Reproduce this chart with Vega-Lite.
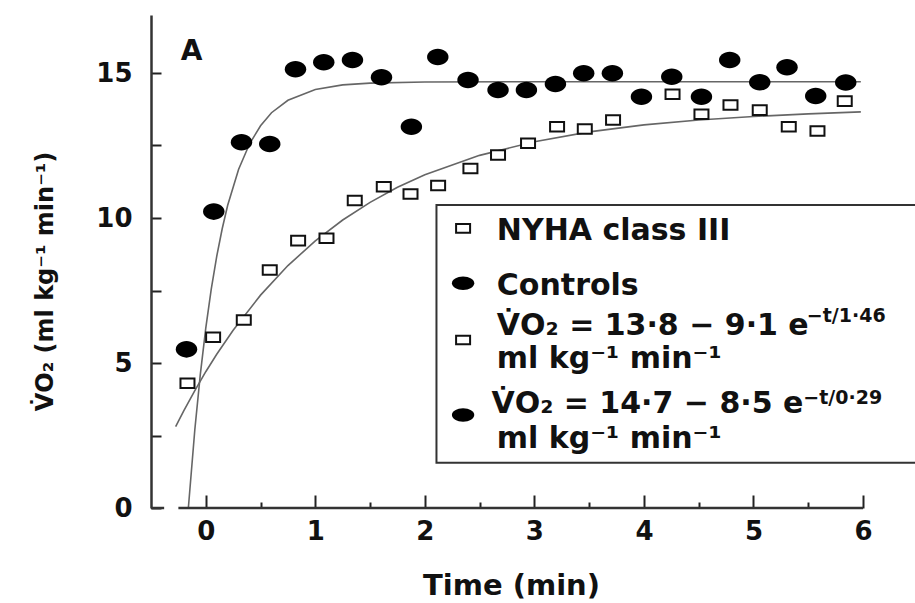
{
  "$schema": "https://vega.github.io/schema/vega-lite/v6.json",
  "width": 761,
  "height": 493,
  "autosize": {"type": "none"},
  "padding": {"left": 151, "top": 15, "right": 3, "bottom": 95},
  "background": "white",
  "config": {
    "view": {"stroke": null},
    "font": "DejaVu Sans",
    "axis": {"grid": false, "labelFont": "DejaVu Sans", "titleFont": "DejaVu Sans", "labelFontWeight": "bold", "titleFontWeight": "bold", "labelColor": "#111", "titleColor": "#111", "tickColor": "#222", "tickWidth": 2, "labelFlush": false, "labelOverlap": false, "labelBound": false}
  },
  "datasets": {
    "controls": [
      {"t": -0.176, "v": 5.47}, {"t": 0.073, "v": 10.22}, {"t": 0.326, "v": 12.61}, {"t": 0.584, "v": 12.55},
      {"t": 0.819, "v": 15.13}, {"t": 1.077, "v": 15.37}, {"t": 1.339, "v": 15.45}, {"t": 1.604, "v": 14.85},
      {"t": 1.877, "v": 13.15}, {"t": 2.118, "v": 15.55}, {"t": 2.394, "v": 14.76}, {"t": 2.668, "v": 14.41},
      {"t": 2.927, "v": 14.41}, {"t": 3.192, "v": 14.62}, {"t": 3.45, "v": 14.99}, {"t": 3.712, "v": 14.99},
      {"t": 3.977, "v": 14.18}, {"t": 4.254, "v": 14.87}, {"t": 4.525, "v": 14.18}, {"t": 4.783, "v": 15.45},
      {"t": 5.057, "v": 14.68}, {"t": 5.306, "v": 15.2}, {"t": 5.568, "v": 14.21}, {"t": 5.842, "v": 14.67}
    ],
    "nyha": [
      {"t": -0.167, "v": 4.3}, {"t": 0.067, "v": 5.89}, {"t": 0.347, "v": 6.48}, {"t": 0.584, "v": 8.21},
      {"t": 0.843, "v": 9.22}, {"t": 1.102, "v": 9.3}, {"t": 1.36, "v": 10.6}, {"t": 1.625, "v": 11.08},
      {"t": 1.869, "v": 10.83}, {"t": 2.121, "v": 11.12}, {"t": 2.416, "v": 11.71}, {"t": 2.668, "v": 12.17},
      {"t": 2.942, "v": 12.58}, {"t": 3.207, "v": 13.15}, {"t": 3.46, "v": 13.07}, {"t": 3.718, "v": 13.38},
      {"t": 4.261, "v": 14.27}, {"t": 4.525, "v": 13.58}, {"t": 4.79, "v": 13.9}, {"t": 5.057, "v": 13.72},
      {"t": 5.322, "v": 13.15}, {"t": 5.584, "v": 13.0}, {"t": 5.833, "v": 14.03}
    ],
    "curves": [
      {"curve": "ctrl", "t": -0.159, "v": 0.0}, {"curve": "ctrl", "t": -0.1, "v": 2.7}, {"curve": "ctrl", "t": -0.05, "v": 4.6},
      {"curve": "ctrl", "t": 0.0, "v": 6.2}, {"curve": "ctrl", "t": 0.05, "v": 7.55}, {"curve": "ctrl", "t": 0.1, "v": 8.68},
      {"curve": "ctrl", "t": 0.15, "v": 9.63}, {"curve": "ctrl", "t": 0.2, "v": 10.44}, {"curve": "ctrl", "t": 0.3, "v": 11.68},
      {"curve": "ctrl", "t": 0.4, "v": 12.56}, {"curve": "ctrl", "t": 0.5, "v": 13.18}, {"curve": "ctrl", "t": 0.6, "v": 13.63},
      {"curve": "ctrl", "t": 0.75, "v": 14.06}, {"curve": "ctrl", "t": 1.0, "v": 14.43}, {"curve": "ctrl", "t": 1.25, "v": 14.59},
      {"curve": "ctrl", "t": 1.5, "v": 14.65}, {"curve": "ctrl", "t": 2.0, "v": 14.69}, {"curve": "ctrl", "t": 3.0, "v": 14.7},
      {"curve": "ctrl", "t": 5.98, "v": 14.7},
      {"curve": "nyha", "t": -0.275, "v": 2.81}, {"curve": "nyha", "t": -0.2, "v": 3.36}, {"curve": "nyha", "t": -0.1, "v": 4.05},
      {"curve": "nyha", "t": 0.0, "v": 4.7}, {"curve": "nyha", "t": 0.1, "v": 5.3}, {"curve": "nyha", "t": 0.25, "v": 6.13},
      {"curve": "nyha", "t": 0.5, "v": 7.34}, {"curve": "nyha", "t": 0.75, "v": 8.36}, {"curve": "nyha", "t": 1.0, "v": 9.21},
      {"curve": "nyha", "t": 1.25, "v": 9.93}, {"curve": "nyha", "t": 1.5, "v": 10.54}, {"curve": "nyha", "t": 1.75, "v": 11.06},
      {"curve": "nyha", "t": 2.0, "v": 11.49}, {"curve": "nyha", "t": 2.5, "v": 12.16}, {"curve": "nyha", "t": 3.0, "v": 12.63},
      {"curve": "nyha", "t": 3.5, "v": 12.97}, {"curve": "nyha", "t": 4.0, "v": 13.21}, {"curve": "nyha", "t": 4.5, "v": 13.38},
      {"curve": "nyha", "t": 5.0, "v": 13.5}, {"curve": "nyha", "t": 5.5, "v": 13.59}, {"curve": "nyha", "t": 5.98, "v": 13.66}
    ],
    "legbox": [{"t": 2.106, "t2": 6.8, "v": 1.562, "v2": 10.448}],
    "legsq": [{"t": 2.349, "v": 9.645}, {"t": 2.349, "v": 5.793}],
    "legci": [{"t": 2.349, "v": 7.748}, {"t": 2.349, "v": 3.207}],
    "legtext": [
      {"t": 2.657, "v": 9.241, "txt": "NYHA class III"},
      {"t": 2.657, "v": 7.345, "txt": "Controls"},
      {"t": 2.657, "v": 5.966, "txt": "V\u0307O\u2082 = 13\u00b78 \u2212 9\u00b71 e"},
      {"t": 2.657, "v": 4.828, "txt": "ml kg\u207b\u00b9 min\u207b\u00b9"},
      {"t": 2.608, "v": 3.276, "txt": "V\u0307O\u2082 = 14\u00b77 \u2212 8\u00b75 e"},
      {"t": 2.657, "v": 2.069, "txt": "ml kg\u207b\u00b9 min\u207b\u00b9"}
    ],
    "legsup": [
      {"t": 5.487, "v": 6.414, "txt": "\u2212t/1\u00b746"},
      {"t": 5.455, "v": 3.586, "txt": "\u2212t/0\u00b729"}
    ],
    "panel": [{"t": -0.13, "v": 15.45, "txt": "A"}],
    "axisline": [{"t": -0.25, "t2": 6.0, "v": 0}, {"t": -0.5, "t2": -0.38, "v": 0}]
  },
  "layer": [
    {
      "data": {"name": "legbox"},
      "mark": {"type": "rect", "fill": "white", "stroke": "#333", "strokeWidth": 2},
      "encoding": {
        "x": {"field": "t", "type": "quantitative", "scale": {"domain": [-0.5, 6.447], "nice": false, "zero": false},
          "axis": {"domain": false, "values": [0, 0.5, 1, 1.5, 2, 2.5, 3, 3.5, 4, 4.5, 5, 5.5, 6],
            "tickSize": {"condition": {"test": "datum.value % 1 === 0", "value": -13}, "value": -6},
            "labelExpr": "datum.value % 1 === 0 ? format(datum.value, 'd') : ''",
            "labelFontSize": 26, "labelPadding": 23,
            "title": "Time (min)", "titleFontSize": 29, "titleX": 360, "titleY": 86, "titleBaseline": "alphabetic", "titleAnchor": "middle", "titleAlign": "center"}},
        "x2": {"field": "t2"},
        "y": {"field": "v", "type": "quantitative", "scale": {"domain": [0, 17], "nice": false},
          "axis": {"domain": true, "domainColor": "#333", "domainWidth": 2.5, "values": [0, 2.5, 5, 7.5, 10, 12.5, 15],
            "tickSize": -10,
            "labelExpr": "datum.value % 5 === 0 ? format(datum.value, 'd') : ''",
            "labelFontSize": 26, "labelPadding": 29,
            "title": "V\u0307O\u2082 (ml kg\u207b\u00b9 min\u207b\u00b9)", "titleFontSize": 24, "titleAngle": -90,
            "titleX": -99, "titleY": 266, "titleBaseline": "alphabetic", "titleAlign": "center", "titleAnchor": "middle"}},
        "y2": {"field": "v2"}
      }
    },
    {
      "data": {"name": "curves"},
      "mark": {"type": "line", "stroke": "#666", "strokeWidth": 1.6, "clip": false},
      "encoding": {
        "x": {"field": "t", "type": "quantitative"},
        "y": {"field": "v", "type": "quantitative"},
        "detail": {"field": "curve"}
      }
    },
    {
      "data": {"name": "nyha"},
      "mark": {"type": "point", "shape": "M-1,-0.68H1V0.68H-1Z", "size": 196, "filled": false, "fill": "white", "stroke": "#111", "strokeWidth": 2, "opacity": 1},
      "encoding": {"x": {"field": "t", "type": "quantitative"}, "y": {"field": "v", "type": "quantitative"}}
    },
    {
      "data": {"name": "controls"},
      "mark": {"type": "point", "shape": "M-1,0A1,0.77,0,1,0,1,0A1,0.77,0,1,0,-1,0Z", "size": 460, "filled": true, "fill": "#000", "opacity": 1},
      "encoding": {"x": {"field": "t", "type": "quantitative"}, "y": {"field": "v", "type": "quantitative"}}
    },
    {
      "data": {"name": "legsq"},
      "mark": {"type": "point", "shape": "M-1,-0.62H1V0.62H-1Z", "size": 196, "filled": false, "fill": "white", "stroke": "#111", "strokeWidth": 2, "opacity": 1},
      "encoding": {"x": {"field": "t", "type": "quantitative"}, "y": {"field": "v", "type": "quantitative"}}
    },
    {
      "data": {"name": "legci"},
      "mark": {"type": "point", "shape": "M-1,0A1,0.6,0,1,0,1,0A1,0.6,0,1,0,-1,0Z", "size": 500, "filled": true, "fill": "#000", "opacity": 1},
      "encoding": {"x": {"field": "t", "type": "quantitative"}, "y": {"field": "v", "type": "quantitative"}}
    },
    {
      "data": {"name": "legtext"},
      "mark": {"type": "text", "align": "left", "baseline": "alphabetic", "font": "DejaVu Sans", "fontWeight": "bold", "fontSize": 30, "color": "#111"},
      "encoding": {"x": {"field": "t", "type": "quantitative"}, "y": {"field": "v", "type": "quantitative"}, "text": {"field": "txt"}}
    },
    {
      "data": {"name": "legsup"},
      "mark": {"type": "text", "align": "left", "baseline": "alphabetic", "font": "DejaVu Sans", "fontWeight": "bold", "fontSize": 19, "color": "#111"},
      "encoding": {"x": {"field": "t", "type": "quantitative"}, "y": {"field": "v", "type": "quantitative"}, "text": {"field": "txt"}}
    },
    {
      "data": {"name": "panel"},
      "mark": {"type": "text", "align": "center", "baseline": "alphabetic", "font": "DejaVu Sans", "fontWeight": "bold", "fontSize": 28, "color": "#111"},
      "encoding": {"x": {"field": "t", "type": "quantitative"}, "y": {"field": "v", "type": "quantitative"}, "text": {"field": "txt"}}
    },
    {
      "data": {"name": "axisline"},
      "mark": {"type": "rule", "stroke": "#333", "strokeWidth": 2.5},
      "encoding": {"x": {"field": "t", "type": "quantitative"}, "x2": {"field": "t2"}, "y": {"field": "v", "type": "quantitative"}}
    }
  ]
}
